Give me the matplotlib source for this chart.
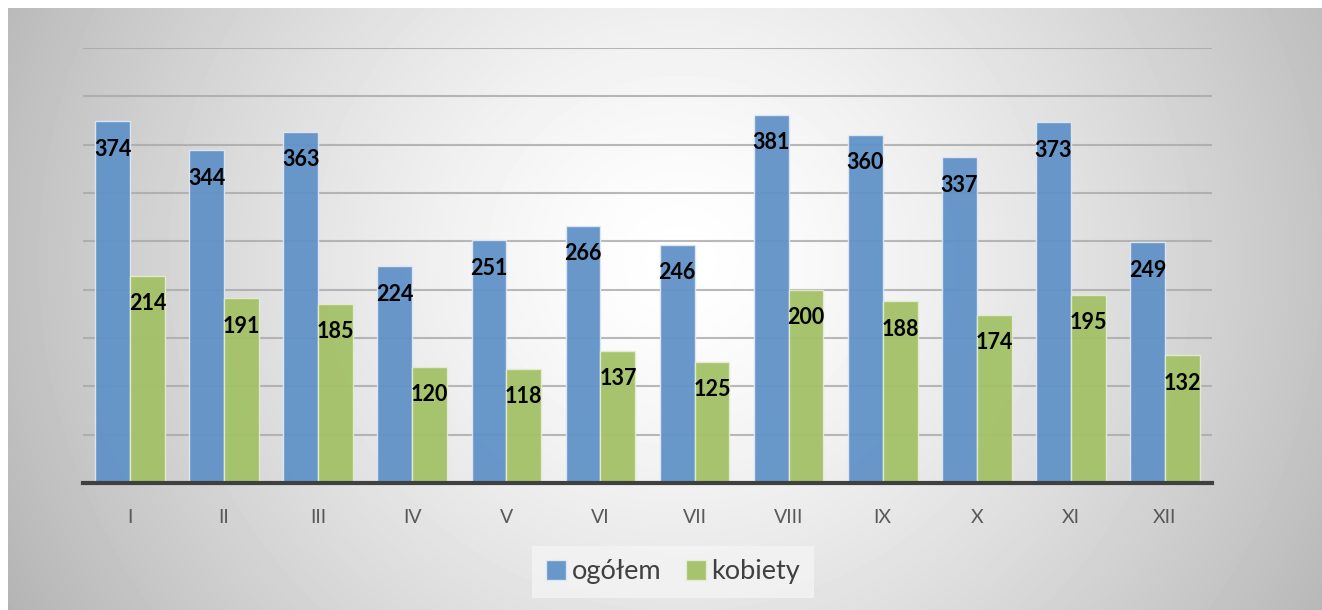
import numpy as np
import matplotlib.pyplot as plt

months = ["I", "II", "III", "IV", "V", "VI", "VII", "VIII", "IX", "X", "XI", "XII"]
ogolem = [374, 344, 363, 224, 251, 266, 246, 381, 360, 337, 373, 249]
kobiety = [214, 191, 185, 120, 118, 137, 125, 200, 188, 174, 195, 132]
series_names = ["ogółem", "kobiety"]

BLUE = "#6192c8"
GREEN = "#a3c167"

W, H = 1322, 610
fig = plt.figure(figsize=(W / 100, H / 100), dpi=100)
fig.patch.set_facecolor("white")

# ── background: soft radial gray gradient ──
bg = fig.add_axes([8 / W, 0, 1 - 8 / W, 1 - 8 / H], zorder=-5)
yy, xx = np.mgrid[8:H, 8:W]
r = np.sqrt(((xx - 680) / 680.0) ** 2 + ((yy - 260) / 650.0) ** 2)
shade = 1 - 0.25 * np.clip(r, 0, 1.2) ** 1.4
bg.imshow(shade, cmap="gray", vmin=0, vmax=1, aspect="auto",
          extent=[0, 1, 0, 1], interpolation="bilinear")
bg.axis("off")

# ── bars ──
ax = fig.add_axes([83 / W, 1 - 483 / H, (1212 - 83) / W, (483 - 48) / H])
ax.patch.set_alpha(0)
x = np.arange(len(months))
w = 0.37
b1 = ax.bar(x - w / 2, ogolem, w, color=BLUE, edgecolor="#dfe8f3", linewidth=1,
            alpha=0.95, zorder=2, label=series_names[0])
b2 = ax.bar(x + w / 2, kobiety, w, color=GREEN, edgecolor="#e3ecd2", linewidth=1,
            alpha=0.95, zorder=2, label=series_names[1])

for bars, vals in [(b1, ogolem), (b2, kobiety)]:
    for rect, v in zip(bars, vals):
        ax.annotate(str(v), (rect.get_x() + rect.get_width() / 2, v),
                    xytext=(0, -20), textcoords="offset points",
                    ha="center", va="center", fontsize=15.5, fontweight="bold",
                    family="Lato", color="black", zorder=4)

ax.set_xlim(-0.5, len(months) - 0.5)
ax.set_ylim(0, 450)
ax.set_yticks(np.arange(50, 451, 50))
ax.yaxis.grid(True, color="#a8a8a8", linewidth=1.5, alpha=0.8, zorder=3)
ax.tick_params(axis="y", left=False, labelleft=False)
ax.set_xticks(x)
ax.set_xticklabels(months, family="Lato", fontsize=14, color="#595959")
ax.tick_params(axis="x", length=0, pad=19)
for s in ["top", "right", "left"]:
    ax.spines[s].set_visible(False)
ax.spines["bottom"].set_color("#404040")
ax.spines["bottom"].set_linewidth(3)
ax.spines["bottom"].set_zorder(5)

leg = fig.legend(loc="center", bbox_to_anchor=(673 / W, 1 - 572 / H), ncol=2,
                 frameon=True, fancybox=False, handlelength=0.75, handleheight=0.75,
                 handletextpad=0.2, columnspacing=0.9, borderpad=0.5,
                 borderaxespad=0, prop={"family": "Lato", "size": 19.5})
leg.get_frame().set_facecolor("#f4f4f4")
leg.get_frame().set_edgecolor("none")
for t in leg.get_texts():
    t.set_color("#404040")

fig.savefig("out.png", dpi=100)
